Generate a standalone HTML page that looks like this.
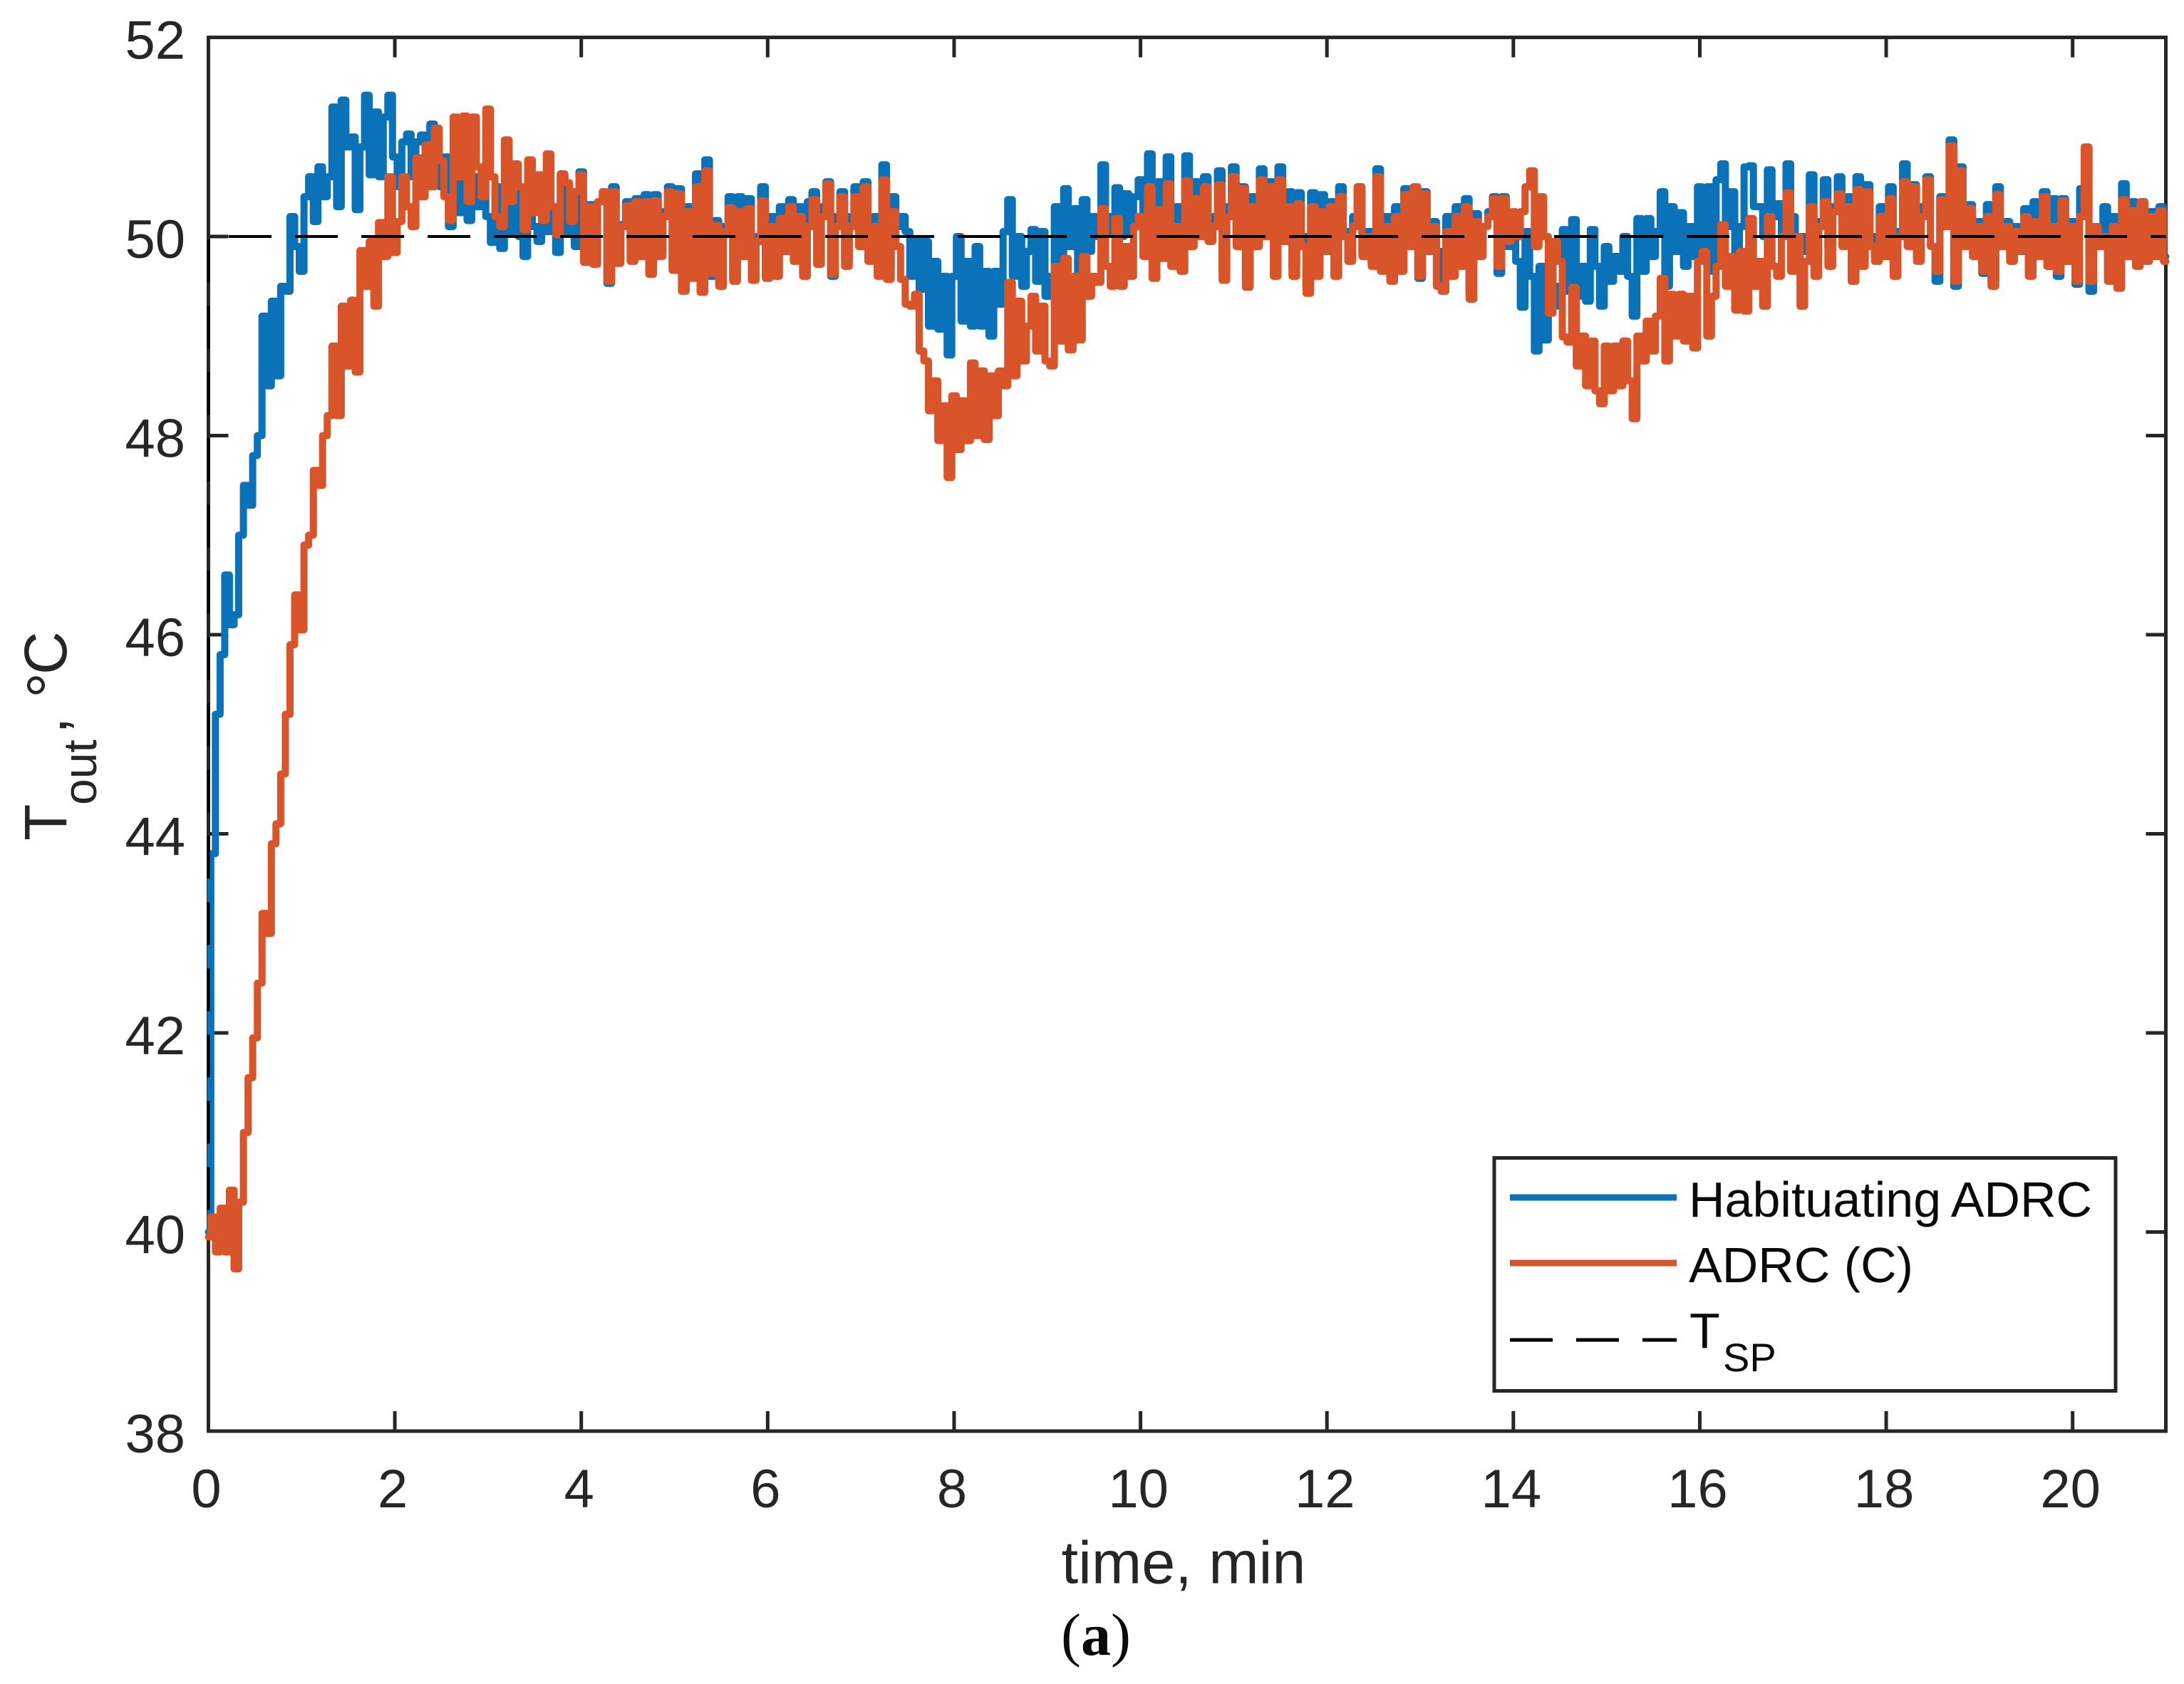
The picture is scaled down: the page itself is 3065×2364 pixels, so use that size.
<!DOCTYPE html>
<html lang="en">
<head>
<meta charset="utf-8">
<title>Outlet temperature response</title>
<style>
html,body{margin:0;padding:0;background:#fff;}
svg{display:block;}
text{font-family:"Liberation Sans",Arial,sans-serif;fill:#262626;}
</style>
</head>
<body>
<svg id="chart" xmlns="http://www.w3.org/2000/svg" width="3065" height="2364" viewBox="0 0 3065 2364">
  <rect x="0" y="0" width="3065" height="2364" fill="#ffffff"/>
  <g id="ticks"></g>
  <rect x="292.5" y="52.5" width="2747" height="1956.5" fill="none" stroke="#262626" stroke-width="5"/>
  <g id="series"></g>
  <g id="tick-labels"></g>
  <text x="1661" y="2222.5" font-size="84.5" text-anchor="middle">time, min</text>
  <text transform="translate(93,1180) rotate(-90)" font-size="84"><tspan x="0">T</tspan><tspan x="50" dy="42" font-size="66">out</tspan><tspan x="150" dy="-42">,</tspan><tspan x="200" dy="8" font-size="90">°</tspan><tspan x="233" dy="-8">C</tspan></text>
  <text x="1538" y="2323" text-anchor="middle" font-size="84" style="font-family:'Liberation Serif',serif;fill:#0a0a0a">(<tspan font-weight="bold">a</tspan>)</text>
  <g>
    <rect x="2097" y="1625.5" width="872" height="327" fill="#ffffff" stroke="#262626" stroke-width="5"/>
    <line x1="2119" y1="1681" x2="2353" y2="1681" stroke="#0972B9" stroke-width="9"/>
    <text x="2370" y="1708" font-size="70" word-spacing="-2" style="fill:#0a0a0a">Habituating ADRC</text>
    <line x1="2119" y1="1773" x2="2353" y2="1773" stroke="#D95428" stroke-width="9"/>
    <text x="2370" y="1800" font-size="70" style="fill:#0a0a0a">ADRC (C)</text>
    <line x1="2119" y1="1881" x2="2353" y2="1881" stroke="#000000" stroke-width="5" stroke-dasharray="60 33"/>
    <text x="2371" y="1892" font-size="70" style="fill:#0a0a0a">T<tspan x="2418" y="1925" font-size="56">SP</tspan></text>
  </g>
</svg>
<script>
const xTickValues = [0,2,4,6,8,10,12,14,16,18,20];
const yTickValues = [38,40,42,44,46,48,50,52];
const sampleStep = 0.05;
const setpointTime = [0,0.001,21];
const setpointValues = [40,50,50];
const habituatingValues = [
40.0,43.8,45.2,45.8,46.6,46.1,46.2,47.0,47.5,47.3,47.8,48.0,49.2,48.5,49.35,48.6,49.5,49.45,50.2,49.9,
49.65,50.4,50.6,50.15,50.7,50.4,50.6,51.3,50.3,51.37,50.9,51.0,50.27,50.9,51.42,50.62,51.25,50.6,51.2,51.42,
50.8,50.5,50.95,51.03,50.6,50.95,51.02,50.7,51.13,51.05,50.5,50.8,50.1,50.75,50.24,50.8,50.16,50.6,50.3,50.55,
50.2,49.94,50.5,49.88,50.3,50.05,50.55,50.0,49.8,50.3,50.1,49.95,50.4,50.05,50.3,49.84,50.6,50.05,50.3,49.9,
50.65,49.78,50.32,49.72,50.35,50.4,49.53,50.5,49.75,50.12,50.35,49.76,50.38,49.85,50.42,49.63,50.42,49.82,50.25,50.5,
49.68,50.48,49.47,50.3,49.62,50.63,49.46,50.77,49.6,50.16,49.52,50.1,50.4,49.57,50.4,49.82,50.38,49.58,50.0,50.5,
49.6,50.2,49.62,50.3,49.9,50.37,49.8,50.3,49.65,50.35,50.45,49.75,50.3,50.55,49.6,50.2,50.45,49.75,50.2,50.5,
50.0,50.55,49.8,50.2,49.65,50.72,49.7,50.4,50.1,50.2,50.05,49.6,49.97,49.47,49.95,49.1,49.75,49.07,49.6,48.81,
49.6,50.0,49.15,49.75,49.1,49.9,49.1,49.65,49.0,49.65,49.32,50.05,50.37,49.6,50.0,49.5,49.85,50.07,49.55,50.05,
49.4,49.6,50.3,49.7,50.48,49.9,50.28,49.6,50.37,49.85,50.2,50.0,50.72,50.05,50.2,50.49,50.0,50.43,50.05,50.4,
50.57,50.0,50.83,49.9,50.55,50.0,50.8,49.8,50.3,49.95,50.81,50.0,50.55,50.1,50.6,50.05,50.2,50.66,49.65,50.3,
50.7,50.0,50.5,49.55,50.4,50.0,50.68,50.1,50.55,49.65,50.7,50.0,50.45,49.7,50.44,50.0,49.5,50.44,49.65,50.42,
49.95,50.35,49.62,50.5,50.05,49.78,50.2,50.5,49.85,50.05,49.72,50.68,49.7,50.2,49.57,50.3,49.7,50.48,49.95,50.45,
49.58,50.45,49.9,50.15,49.52,49.85,50.2,49.7,50.3,49.8,50.38,49.45,50.23,49.85,50.1,50.25,50.4,49.63,50.4,49.9,
50.2,49.75,49.29,50.05,49.6,48.85,49.7,48.96,49.9,49.5,49.3,50.07,49.45,50.17,49.4,49.7,49.35,50.07,49.7,49.3,
49.9,49.55,49.8,49.65,50.0,49.6,49.2,50.18,49.65,50.18,49.8,50.05,50.45,49.5,50.3,49.85,50.24,49.7,50.1,49.8,
50.5,49.9,50.5,49.65,50.57,50.73,50.1,50.45,49.7,50.1,50.7,50.71,50.3,50.3,50.0,50.67,50.2,50.33,50.0,50.73,
50.2,49.8,50.0,49.85,50.62,49.8,50.15,50.57,49.9,50.3,50.6,50.0,50.4,49.65,50.6,49.8,50.52,50.0,49.8,50.3,
49.85,50.5,49.62,50.05,50.73,50.0,50.52,49.8,50.3,50.6,49.9,49.55,50.4,50.2,50.97,49.5,50.7,49.9,50.32,49.85,
50.15,49.63,50.32,49.55,50.5,49.95,50.15,49.75,50.1,49.9,50.28,49.62,50.35,49.85,50.45,49.7,50.38,49.6,50.38,49.75,
50.15,49.52,50.48,50.88,49.45,50.1,49.95,50.3,49.6,50.2,49.5,50.53,49.85,50.35,49.75,50.35,49.8,50.25,49.85,50.3,
49.8];
const adrcValues = [
39.95,40.15,39.8,40.24,39.8,40.42,39.63,40.3,41.0,41.55,41.95,42.5,43.2,43.0,43.9,44.1,44.6,45.2,45.9,46.4,
46.05,46.9,47.0,47.65,47.5,48.0,48.2,48.9,48.2,49.3,48.7,49.36,48.64,49.86,49.5,49.95,49.3,50.14,49.8,50.6,
49.84,50.15,50.6,50.3,50.1,50.79,50.4,50.92,50.5,51.09,50.76,50.4,50.16,51.2,50.6,51.21,50.35,51.2,50.7,50.4,
51.28,50.6,50.2,50.1,50.97,50.35,50.73,50.5,50.07,50.77,50.24,50.62,50.16,50.83,50.3,50.02,50.63,50.54,50.15,50.45,
50.62,49.74,50.3,49.72,50.35,50.45,49.55,50.45,49.73,50.1,50.31,49.75,50.35,49.8,50.35,49.62,50.36,49.8,50.2,50.45,
49.66,50.43,49.45,50.25,49.58,50.5,49.44,50.66,49.63,50.11,49.5,50.05,50.29,49.55,50.25,49.8,50.28,49.56,49.95,50.36,
49.58,50.1,49.6,50.18,49.85,50.3,49.75,50.2,49.6,50.1,50.37,49.72,50.2,50.53,49.62,50.1,50.4,49.7,50.1,50.4,
49.9,50.5,49.75,50.1,49.6,50.57,49.57,50.25,49.9,49.57,49.32,49.3,49.42,48.85,48.75,48.25,48.55,47.95,48.3,47.58,
48.4,47.86,48.35,47.95,48.73,48.0,48.65,47.96,48.6,48.2,48.65,48.5,49.54,48.6,49.35,48.75,49.1,49.4,48.85,49.3,
48.75,48.7,49.7,48.95,49.78,48.86,49.6,48.96,49.8,49.4,49.6,49.54,50.28,49.7,49.5,50.18,49.5,49.9,49.6,50.1,
50.2,49.8,50.5,49.58,50.27,49.78,50.53,49.7,50.1,49.65,50.56,49.9,50.38,50.0,50.5,49.95,50.1,50.52,49.56,50.2,
50.6,49.9,50.48,49.49,50.3,49.9,50.57,50.0,50.5,49.6,50.57,49.95,50.3,49.6,50.33,49.9,49.43,50.3,49.6,50.25,
49.85,50.3,49.6,50.4,50.0,49.75,50.1,50.5,49.8,50.0,49.7,50.6,49.65,50.1,49.55,50.2,49.65,50.42,49.9,50.5,
49.6,50.43,49.85,50.1,49.5,49.45,50.05,49.6,50.2,49.7,50.3,49.37,50.15,49.8,50.1,50.2,50.38,49.7,50.38,49.95,
50.25,50.0,50.25,50.5,50.66,49.9,50.4,50.0,49.23,49.95,49.75,48.99,48.94,49.49,48.7,49.0,48.5,48.95,48.45,48.32,
48.9,48.45,48.9,48.5,48.95,48.55,48.17,49.0,48.75,49.15,48.85,49.2,49.58,48.75,49.42,49.0,49.42,48.95,49.4,48.88,
49.75,49.85,49.0,49.4,49.7,50.12,49.5,49.8,49.26,49.85,49.25,50.18,49.5,49.75,49.3,50.2,49.7,49.6,50.0,50.44,
49.65,50.0,49.3,49.75,50.3,49.6,50.1,50.35,49.7,50.25,50.43,49.9,50.3,49.55,50.47,49.7,50.45,49.9,49.75,50.2,
49.8,50.38,49.6,50.0,50.55,49.9,50.5,49.75,50.2,50.57,49.9,49.65,50.37,50.1,50.91,49.55,50.66,49.9,50.28,49.8,
50.1,49.65,50.2,49.5,50.42,49.9,50.1,49.75,50.05,49.85,50.2,49.6,50.15,49.8,50.4,49.7,50.1,49.65,50.36,49.75,
50.1,49.55,50.2,50.9,49.55,50.1,49.9,50.0,49.55,50.1,49.48,50.37,49.8,50.26,49.7,50.35,49.75,50.2,49.8,50.26,
49.75];

const SVG_NS = "http://www.w3.org/2000/svg";
const plot = {left:292.5, right:3039.5, top:52.5, bottom:2009, xMin:0, xMax:21, yMin:38, yMax:52};
function xScale(t){ return plot.left + (t - plot.xMin) / (plot.xMax - plot.xMin) * (plot.right - plot.left); }
function yScale(v){ return plot.bottom - (v - plot.yMin) / (plot.yMax - plot.yMin) * (plot.bottom - plot.top); }
function makeEl(tag, attrs){
  const el = document.createElementNS(SVG_NS, tag);
  for (const k in attrs) el.setAttribute(k, attrs[k]);
  return el;
}
function stepPath(values, step){
  let d = "M" + xScale(0).toFixed(1) + " " + yScale(values[0]).toFixed(1);
  for (let i = 1; i < values.length; i++) {
    const xEdge = xScale((i - 0.5) * step).toFixed(1);
    d += "L" + xEdge + " " + yScale(values[i - 1]).toFixed(1);
    d += "L" + xEdge + " " + yScale(values[i]).toFixed(1);
  }
  d += "L" + xScale((values.length - 1) * step).toFixed(1) + " " + yScale(values[values.length - 1]).toFixed(1);
  return d;
}
function linePath(times, values){
  return values.map((v, i) => (i ? "L" : "M") + xScale(times[i]).toFixed(1) + " " + yScale(v).toFixed(1)).join("");
}
const tickGroup = document.getElementById("ticks");
const labelGroup = document.getElementById("tick-labels");
const seriesGroup = document.getElementById("series");
const tickLen = 28;
const tickStyle = {stroke:"#262626", "stroke-width":5};

xTickValues.forEach(function(t){
  const x = xScale(t);
  const bottomTick = makeEl("line", Object.assign({x1:x, x2:x, y1:plot.bottom, y2:plot.bottom - tickLen}, tickStyle));
  
  
  tickGroup.appendChild(bottomTick);
  const topTick = makeEl("line", Object.assign({x1:x, x2:x, y1:plot.top, y2:plot.top + tickLen}, tickStyle));
  
  
  tickGroup.appendChild(topTick);
  const label = makeEl("text", {x:x - 3, y:2116, "font-size":76, "text-anchor":"middle"});
  
  
  label.textContent = t;
  labelGroup.appendChild(label);
});

yTickValues.forEach(function(v){
  const y = yScale(v);
  const leftTick = makeEl("line", Object.assign({x1:plot.left, x2:plot.left + tickLen, y1:y, y2:y}, tickStyle));
  
  
  tickGroup.appendChild(leftTick);
  const rightTick = makeEl("line", Object.assign({x1:plot.right, x2:plot.right - tickLen, y1:y, y2:y}, tickStyle));
  
  
  tickGroup.appendChild(rightTick);
  const label = makeEl("text", {x:260, y:y + 30, "font-size":76, "text-anchor":"end"});
  
  
  label.textContent = v;
  labelGroup.appendChild(label);
});

const lineStyle = {fill:"none", "stroke-width":10, "stroke-linejoin":"round", "stroke-linecap":"round"};

const habituatingLine = makeEl("path", Object.assign({d:stepPath(habituatingValues, sampleStep), stroke:"#0972B9"}, lineStyle));


seriesGroup.appendChild(habituatingLine);

const adrcLine = makeEl("path", Object.assign({d:stepPath(adrcValues, sampleStep), stroke:"#D95428"}, lineStyle));


seriesGroup.appendChild(adrcLine);

const setpointLine = makeEl("path", {d:linePath(setpointTime, setpointValues), fill:"none", stroke:"#000000", "stroke-width":4, "stroke-dasharray":"60 33", "stroke-dashoffset":-31});


seriesGroup.appendChild(setpointLine);
</script>
</body>
</html>
